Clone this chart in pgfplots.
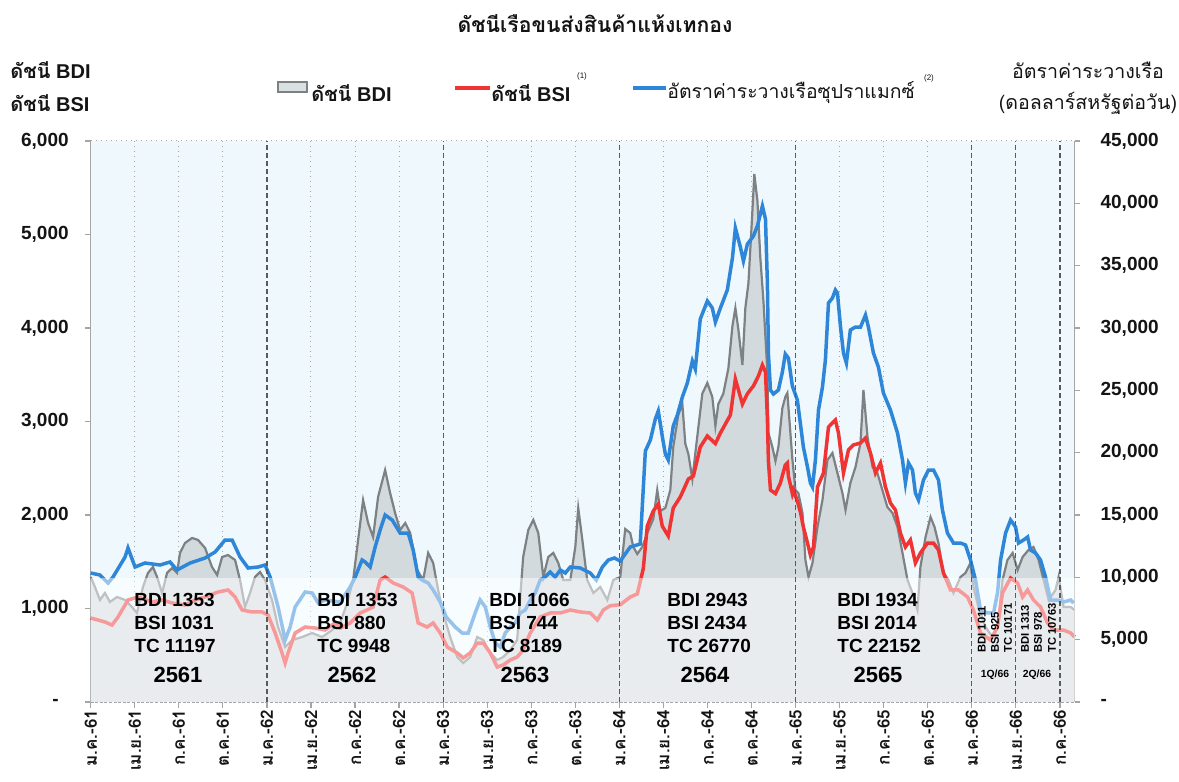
\documentclass[border=0pt]{standalone}
\usepackage{fontspec}
\setmainfont{Liberation Sans}
\newfontfamily\thaifont[Script=Thai]{Loma}
\usepackage{pgfplots}
\usepackage{pgfplotstable}
\pgfplotsset{compat=1.18}
\definecolor{bgblue}{RGB}{239,249,253}
\definecolor{bdifill}{RGB}{210,218,221}
\definecolor{bdiline}{RGB}{125,129,131}
\definecolor{bsired}{RGB}{240,52,52}
\definecolor{tcblue}{RGB}{46,134,216}
\definecolor{gridd}{RGB}{90,90,90}
\definecolor{gridl}{RGB}{165,165,165}
\definecolor{txt}{RGB}{20,20,20}

\pgfplotstableread{
m v
0 1337
0.29 1230
0.63 1091
0.97 1166
1.31 1070
1.79 1123
2.34 1091
2.81 1016
3.15 952
3.56 1230
3.90 1380
4.24 1444
4.52 1337
4.86 1166
5.20 1380
5.54 1433
5.88 1380
6.08 1594
6.42 1700
6.90 1754
7.31 1733
7.79 1647
8.26 1444
8.61 1358
8.95 1551
9.35 1572
9.83 1519
10.17 1305
10.51 1016
10.85 1166
11.19 1337
11.53 1390
11.87 1305
12.35 1091
12.76 802
13.24 588
13.72 663
14.40 695
15.08 738
15.76 695
16.44 770
16.99 845
17.46 1059
17.87 1305
18.21 1733
18.55 2160
18.89 1914
19.23 1765
19.57 2193
20.05 2481
20.39 2235
20.73 2021
21.07 1840
21.42 1914
21.76 1807
22.23 1412
22.64 1305
22.98 1594
23.32 1487
23.66 1198
24.00 952
24.48 695
24.96 481
25.37 417
25.84 481
26.32 695
26.73 663
27.21 524
27.68 449
28.09 481
28.57 556
29.04 663
29.45 1551
29.80 1840
30.14 1947
30.48 1807
30.82 1337
31.16 1551
31.50 1594
31.84 1487
32.18 1305
32.66 1305
33.00 1658
33.20 2075
33.48 1733
33.81 1305
34.23 1166
34.70 1230
35.18 1091
35.59 1305
36.06 1337
36.40 1850
36.74 1807
36.95 1658
37.22 1583
37.56 1658
37.90 1807
38.31 1957
38.58 2267
38.79 2043
39.13 2075
39.47 2267
39.67 2727
40.01 3069
40.29 3187
40.49 2763
40.70 2652
40.97 2385
41.31 2845
41.65 3298
41.99 3412
42.33 3262
42.54 2952
42.74 3187
43.08 3298
43.42 3565
43.70 4021
43.90 4214
44.10 3989
44.38 3604
44.58 4214
44.79 4481
45.06 5251
45.19 5647
45.40 5361
45.60 4749
45.81 4292
46.08 3529
46.15 2877
46.42 2727
46.63 2577
46.83 2727
47.10 3144
47.30 3262
47.44 3305
47.78 2600
47.99 2267
48.19 2235
48.47 2021
48.67 1519
48.88 1337
49.15 1487
49.49 1872
49.83 2160
50.17 2588
50.51 2663
50.85 2449
51.19 2235
51.40 2053
51.73 2342
52.08 2513
52.42 2770
52.62 3337
52.90 2834
53.24 2513
53.57 2449
53.91 2267
54.25 2085
54.60 2021
54.94 1872
55.28 1594
55.62 1305
55.96 1166
56.30 984
56.50 1444
56.85 1765
57.19 1979
57.46 1872
57.73 1700
58.07 1380
58.41 1305
58.75 1166
59.23 1337
59.57 1380
59.91 1487
60.11 1230
60.45 1016
60.93 802
61.41 695
61.75 802
62.09 1305
62.43 1519
62.78 1594
63.12 1412
63.46 1551
63.86 1626
64.20 1658
64.55 1519
64.89 1305
65.23 1091
65.70 1198
65.91 1337
66.25 1016
66.73 1016
67 984
}\bdi

\pgfplotstableread{
m v
0 898
0.50 877
0.97 856
1.45 823
1.86 909
2.54 1091
3.22 1123
4.18 1070
4.86 1091
5.54 1059
6.42 1037
7.11 1091
7.79 1123
8.67 1176
9.35 1198
9.83 1123
10.31 984
10.99 963
11.67 963
12.08 930
12.56 738
13.03 524
13.24 417
13.44 524
13.92 738
14.60 802
15.28 791
15.96 770
16.64 845
16.99 790
17.67 845
18.35 952
18.82 984
19.23 1016
19.71 1305
20.05 1337
20.60 1273
21.28 1230
21.89 1166
22.30 845
22.91 802
23.32 845
23.80 738
24.28 588
24.96 524
25.37 471
25.84 524
26.32 631
26.73 631
27.21 524
27.68 374
28.09 396
28.57 449
29.04 481
29.45 556
29.93 738
30.61 909
31.29 952
31.98 952
32.66 984
33.34 963
34.02 952
34.50 877
34.91 984
35.38 1030
36.06 1040
36.74 1123
37.22 1155
37.63 1427
37.90 1882
38.31 2043
38.65 2118
38.92 1882
39.33 1775
39.67 2075
40.15 2193
40.70 2385
41.04 2417
41.51 2727
41.99 2845
42.54 2763
42.88 2877
43.56 3069
43.90 3454
44.38 3187
44.72 3298
45.13 3380
45.47 3487
45.74 3604
45.95 3529
46.08 3031
46.15 2577
46.29 2267
46.63 2229
46.96 2340
47.30 2535
47.44 2556
47.51 2417
47.78 2229
47.85 2267
48.12 2150
48.33 2030
48.53 1872
48.81 1700
49.01 1572
49.22 1658
49.49 2300
49.90 2449
50.24 2941
50.71 3016
50.92 2877
51.26 2449
51.60 2695
51.94 2749
52.42 2770
52.76 2823
53.10 2663
53.44 2449
53.78 2556
54.12 2300
54.46 2128
54.80 2053
55.14 1807
55.48 1658
55.82 1733
56.16 1487
56.50 1594
56.98 1700
57.39 1700
57.73 1626
58.07 1380
58.55 1198
59.09 1198
59.71 1123
60.11 984
60.59 738
61.27 663
61.75 802
62.09 1166
62.64 1326
63.12 1273
63.46 1123
63.80 1198
64.20 1091
64.68 1016
65.16 845
65.57 770
66.25 770
66.73 738
67 695
}\bsi

\pgfplotstableread{
m v
0 10347
0.63 10187
1.18 9545
1.52 10026
2.34 11630
2.54 12352
3.02 10828
3.70 11149
4.72 10989
5.40 11229
5.88 10588
6.77 11149
7.79 11550
8.47 12032
9.15 12994
9.63 12994
10.17 11630
10.72 10748
11.40 10828
11.87 10989
12.22 10026
12.76 7620
13.24 4973
13.58 6016
13.92 7620
14.60 8823
15.08 8743
15.49 7941
15.96 8181
16.99 8021
17.67 9224
18.01 10026
18.48 11390
18.69 11229
19.03 10828
19.37 12433
19.71 13796
20.05 14999
20.53 14598
21.07 13555
21.62 13555
21.96 12192
22.30 10026
22.57 9786
22.98 9545
23.32 8983
23.80 8021
24.21 6818
24.82 6016
25.30 5534
25.71 5534
26.18 7139
26.52 8181
26.87 7620
27.21 6016
27.55 4732
27.89 4412
28.23 5534
28.57 6016
28.91 6337
29.25 7139
29.59 7379
29.93 8181
30.27 8743
30.61 9786
30.95 10026
31.29 10427
31.63 10026
31.98 10588
32.32 10347
32.66 10828
33.34 10748
34.02 10347
34.43 9786
34.84 10828
35.25 11390
35.66 11550
36.06 11310
36.74 12433
37.42 12673
37.77 20133
38.11 21015
38.45 22699
38.65 23341
38.92 21336
39.13 19892
39.33 19411
39.67 22138
39.95 23020
40.29 24464
40.63 25587
40.97 27352
41.17 26710
41.51 30720
41.99 32164
42.33 31603
42.54 30480
42.88 31603
43.35 33047
43.70 35613
43.90 38020
44.24 36496
44.45 35373
44.72 36736
45.13 37378
45.40 38180
45.74 39784
45.95 38740
46.08 33608
46.15 27913
46.29 25026
46.49 24705
46.83 25026
47.10 26469
47.30 27913
47.51 27592
47.78 25346
48.12 24223
48.33 22298
48.53 20454
48.81 18850
49.01 17566
49.15 17245
49.35 19411
49.56 23421
49.83 25266
50.03 27432
50.24 32004
50.51 32405
50.71 33047
50.85 32806
51.06 30079
51.26 27993
51.46 27191
51.73 29838
52.08 30079
52.42 30079
52.76 31041
52.96 30079
53.30 27993
53.64 26870
53.98 24785
54.46 23421
54.94 21576
55.28 19411
55.48 17566
55.69 19170
55.96 18609
56.16 16764
56.37 16202
56.71 17807
57.05 18609
57.39 18609
57.73 17807
58.00 15400
58.34 13555
58.75 12753
59.23 12753
59.57 12593
59.91 11390
60.25 9786
60.59 7379
61.07 7139
61.48 7139
61.75 8743
61.96 11390
62.30 13555
62.64 14598
62.98 14037
63.18 12753
63.52 12994
63.80 13235
64.00 12192
64.34 11951
64.68 11390
65.02 10026
65.36 8181
65.84 8181
66.25 8021
66.73 8181
66.93 7941
}\tc

\newcommand{\thtext}[1]{{\thaifont #1}}

\begin{document}
\begin{tikzpicture}
\begin{axis}[
  at={(45.35pt,40pt)}, anchor=south west, scale only axis,
  width=491.95pt, height=280.5pt,
  xmin=0, xmax=67, ymin=0, ymax=6000,
  axis background/.style={fill=bgblue},
  axis x line*=bottom, axis y line*=left,
  x axis line style={gridl, dash pattern=on 1.5pt off 0.8pt, line width=0.6pt},
  y axis line style={gridl, line width=0.6pt},
  tick align=outside, major tick length=2.8pt,
  tick style={gridl, line width=0.6pt},
  xtick={0,3,...,66},
  xticklabels={ม.ค.-61,เม.ย.-61,ก.ค.-61,ต.ค.-61,ม.ค.-62,เม.ย.-62,ก.ค.-62,ต.ค.-62,ม.ค.-63,เม.ย.-63,ก.ค.-63,ต.ค.-63,ม.ค.-64,เม.ย.-64,ก.ค.-64,ต.ค.-64,ม.ค.-65,เม.ย.-65,ก.ค.-65,ต.ค.-65,ม.ค.-66,เม.ย.-66,ก.ค.-66},
  xticklabel style={rotate=90, anchor=east, inner sep=1pt, text=txt, font=\thaifont\bfseries\fontsize{8.5}{9}\selectfont},
  ytick={0,1000,...,6000},
  yticklabels={-\kern5pt,{1,000},{2,000},{3,000},{4,000},{5,000},{6,000}},
  yticklabel style={anchor=east, inner sep=0pt, xshift=-8pt, text=txt, font=\bfseries\fontsize{9.5}{11}\selectfont},
  clip=false,
]
\pgfplotsinvokeforeach{3,6,9,15,18,21,27,30,33,39,42,45,51,54,57}{
  \draw[gridl, dotted, line width=0.5pt] (axis cs:#1,0) -- (axis cs:#1,6000);
}
\draw[gridl, dotted, line width=0.5pt] (axis cs:0,6000) -- (axis cs:67,6000);
\addplot[fill=bdifill, draw=none] table[x=m,y=v] {\bdi} \closedcycle;
\addplot[bdiline, line width=1.1pt] table[x=m,y=v] {\bdi};
\addplot[bsired, line width=1.75pt] table[x=m,y=v] {\bsi};
\end{axis}

\begin{axis}[
  at={(45.35pt,40pt)}, anchor=south west, scale only axis,
  width=491.95pt, height=280.5pt,
  xmin=0, xmax=67, ymin=0, ymax=45000,
  axis x line=none, axis y line*=right,
  y axis line style={gridl, line width=0.6pt},
  tick align=outside, major tick length=2.8pt,
  tick style={gridl, line width=0.6pt},
  ytick={0,5000,...,45000},
  yticklabels={-,{5,000},{10,000},{15,000},{20,000},{25,000},{30,000},{35,000},{40,000},{45,000}},
  yticklabel style={anchor=west, inner sep=0pt, xshift=10pt, text=txt, font=\bfseries\fontsize{9.5}{11}\selectfont},
  scaled y ticks=false,
  clip=false,
]
\addplot[tcblue, line width=1.75pt] table[x=m,y=v] {\tc};
\fill[white, opacity=0.5] (rel axis cs:0,0) rectangle (rel axis cs:1,0.221);
\pgfplotsinvokeforeach{12,24,36,48,60,63,66}{
  \draw[gridd, dash pattern=on 2.5pt off 1.5pt, line width=0.6pt] (axis cs:#1,0) -- (axis cs:#1,45000);
}
\end{axis}

\begin{scope}[x=0.5pt, y=-0.5pt, shift={(0pt,391pt)}]
  \node[font=\thaifont\bfseries\fontsize{10.6}{12}\selectfont, text=txt] at (595,24) {ดัชนีเรือขนส่งสินค้าแห้งเทกอง};
  \node[font=\bfseries\fontsize{10}{12}\selectfont, text=txt, anchor=west, inner sep=0pt] at (10,70) {\thtext{ดัชนี} BDI};
  \node[font=\bfseries\fontsize{10}{12}\selectfont, text=txt, anchor=west, inner sep=0pt] at (10,103) {\thtext{ดัชนี} BSI};
  \node[font=\thaifont\fontsize{9.8}{12}\selectfont, text=txt] at (1088,70) {อัตราค่าระวางเรือ};
  \node[font=\thaifont\fontsize{9.8}{12}\selectfont, text=txt] at (1088,103) {(ดอลลาร์สหรัฐต่อวัน)};
  \draw[bdiline, fill=bdifill!85!white, line width=1pt] (278,82) rectangle (307,92);
  \node[font=\bfseries\fontsize{10}{12}\selectfont, text=txt, anchor=west, inner sep=0pt] at (311,93) {\thtext{ดัชนี} BDI};
  \draw[bsired, line width=2pt] (455,88) -- (490,88);
  \node[font=\bfseries\fontsize{10}{12}\selectfont, text=txt, anchor=west, inner sep=0pt] at (491,93) {\thtext{ดัชนี} BSI};
  \node[font=\fontsize{4}{5}\selectfont, text=txt] at (582,76) {(1)};
  \draw[tcblue, line width=2pt] (633,88) -- (666,88);
  \node[font=\thaifont\fontsize{9.7}{12}\selectfont, text=txt, anchor=west, inner sep=0pt] at (667,93) {อัตราค่าระวางเรือซุปราแมกซ์};
  \node[font=\fontsize{4}{5}\selectfont, text=txt] at (929,78) {(2)};
  \foreach \x/\a/\b/\c in {134/BDI 1353/BSI 1031/TC 11197, 317/BDI 1353/BSI 880/TC 9948, 489/BDI 1066/BSI 744/TC 8189, 667/BDI 2943/BSI 2434/TC 26770, 837/BDI 1934/BSI 2014/TC 22152}{
    \node[font=\bfseries\fontsize{9.5}{11}\selectfont, anchor=west, inner sep=0pt] at (\x,600) {\a};
    \node[font=\bfseries\fontsize{9.5}{11}\selectfont, anchor=west, inner sep=0pt] at (\x,623) {\b};
    \node[font=\bfseries\fontsize{9.5}{11}\selectfont, anchor=west, inner sep=0pt] at (\x,646) {\c};
  }
  \foreach \x/\y in {178/2561, 352/2562, 525/2563, 705/2564, 878/2565}{
    \node[font=\bfseries\fontsize{11}{13}\selectfont, inner sep=0pt] at (\x,675) {\y};
  }
  \foreach \x/\t in {981.7/BDI 1011, 995/BSI 925, 1008/TC 10171, 1025/BDI 1313, 1038/BSI 978, 1052/TC 10763}{
    \node[font=\bfseries\fontsize{5.6}{7}\selectfont, rotate=90, anchor=west, inner sep=0pt] at (\x,653) {\t};
  }
  \node[font=\bfseries\fontsize{5.2}{6}\selectfont, inner sep=0pt] at (995,675) {1Q/66};
  \node[font=\bfseries\fontsize{5.2}{6}\selectfont, inner sep=0pt] at (1037,675) {2Q/66};
\end{scope}
\pgfresetboundingbox
\useasboundingbox (0pt,0pt) rectangle (589.5pt,391pt);
\end{tikzpicture}
\end{document}
